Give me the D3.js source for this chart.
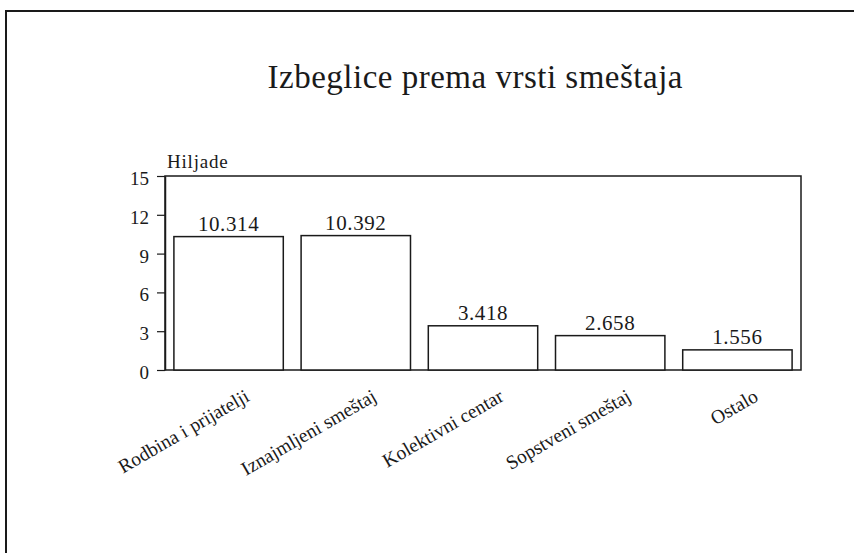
<!DOCTYPE html>
<html><head><meta charset="utf-8">
<script src="https://cdn.jsdelivr.net/npm/d3@7"></script>
<style>body{margin:0;background:#fff}</style>
</head><body>
<svg id="c" width="854" height="553"></svg>
<script>
const categories = ["Rodbina i prijatelji","Iznajmljeni smeštaj","Kolektivni centar","Sopstveni smeštaj","Ostalo"];
const values = [10.314, 10.392, 3.418, 2.658, 1.556];
const valueLabels = ["10.314","10.392","3.418","2.658","1.556"];
const yTicks = [0,3,6,9,12,15];
const title = "Izbeglice prema vrsti smeštaja";
const unitLabel = "Hiljade";

const svg = d3.select("#c");
const font = "'Liberation Serif', 'Times New Roman', serif";
const ink = "#1a1a1a";

// frame
svg.append("line").attr("x1",6).attr("x2",854).attr("y1",11).attr("y2",11).attr("stroke",ink).attr("stroke-width",2);
svg.append("line").attr("x1",6).attr("x2",6).attr("y1",10).attr("y2",553).attr("stroke",ink).attr("stroke-width",2);

const m = {left:165, right:801, top:176, bottom:370};
const x = d3.scaleBand().domain(categories).range([m.left,m.right]).paddingInner(0.14).paddingOuter(0.07);
const y = d3.scaleLinear().domain([0,15]).range([m.bottom,m.top]);

// title
svg.append("text").attr("x",475).attr("y",88).attr("text-anchor","middle")
  .attr("font-family",font).attr("font-size",33).attr("fill",ink)
  .attr("textLength",415).attr("lengthAdjust","spacing").text(title);

// unit label
svg.append("text").attr("x",167).attr("y",168).attr("font-family",font).attr("font-size",19)
  .attr("fill",ink).attr("letter-spacing",0.8).text(unitLabel);

// plot box
svg.append("rect").attr("x",m.left).attr("y",m.top).attr("width",m.right-m.left).attr("height",m.bottom-m.top)
  .attr("fill","none").attr("stroke",ink).attr("stroke-width",1.5);

// y axis
const yAxis = d3.axisLeft(y).tickValues(yTicks).tickSize(8).tickSizeOuter(0).tickPadding(8);
const ga = svg.append("g").attr("transform",`translate(${m.left},0)`).call(yAxis);
ga.select(".domain").attr("stroke",ink).attr("stroke-width",1.5);
ga.selectAll(".tick line").attr("stroke",ink).attr("stroke-width",1.2);
ga.selectAll(".tick text").attr("font-family",font).attr("font-size",19).attr("fill",ink).attr("dy","0.45em");

// bars
svg.append("g").selectAll("rect").data(values).join("rect")
  .attr("x",(d,i)=>x(categories[i])).attr("width",x.bandwidth())
  .attr("y",d=>y(d)).attr("height",d=>y(0)-y(d))
  .attr("fill","#fff").attr("stroke",ink).attr("stroke-width",1.5);

// value labels
svg.append("g").selectAll("text").data(values).join("text")
  .attr("x",(d,i)=>x(categories[i])+x.bandwidth()/2).attr("y",d=>y(d)-6)
  .attr("text-anchor","middle").attr("font-family",font).attr("font-size",21)
  .attr("letter-spacing",0.6).attr("fill",ink).text((d,i)=>valueLabels[i]);

// category labels
svg.append("g").selectAll("text").data(categories).join("text")
  .attr("transform",d=>`translate(${x(d)+x.bandwidth()/2+22},400) rotate(-30)`)
  .attr("text-anchor","end").attr("font-family",font).attr("font-size",19.5).attr("fill",ink)
  .text(d=>d);
</script>
</body></html>
